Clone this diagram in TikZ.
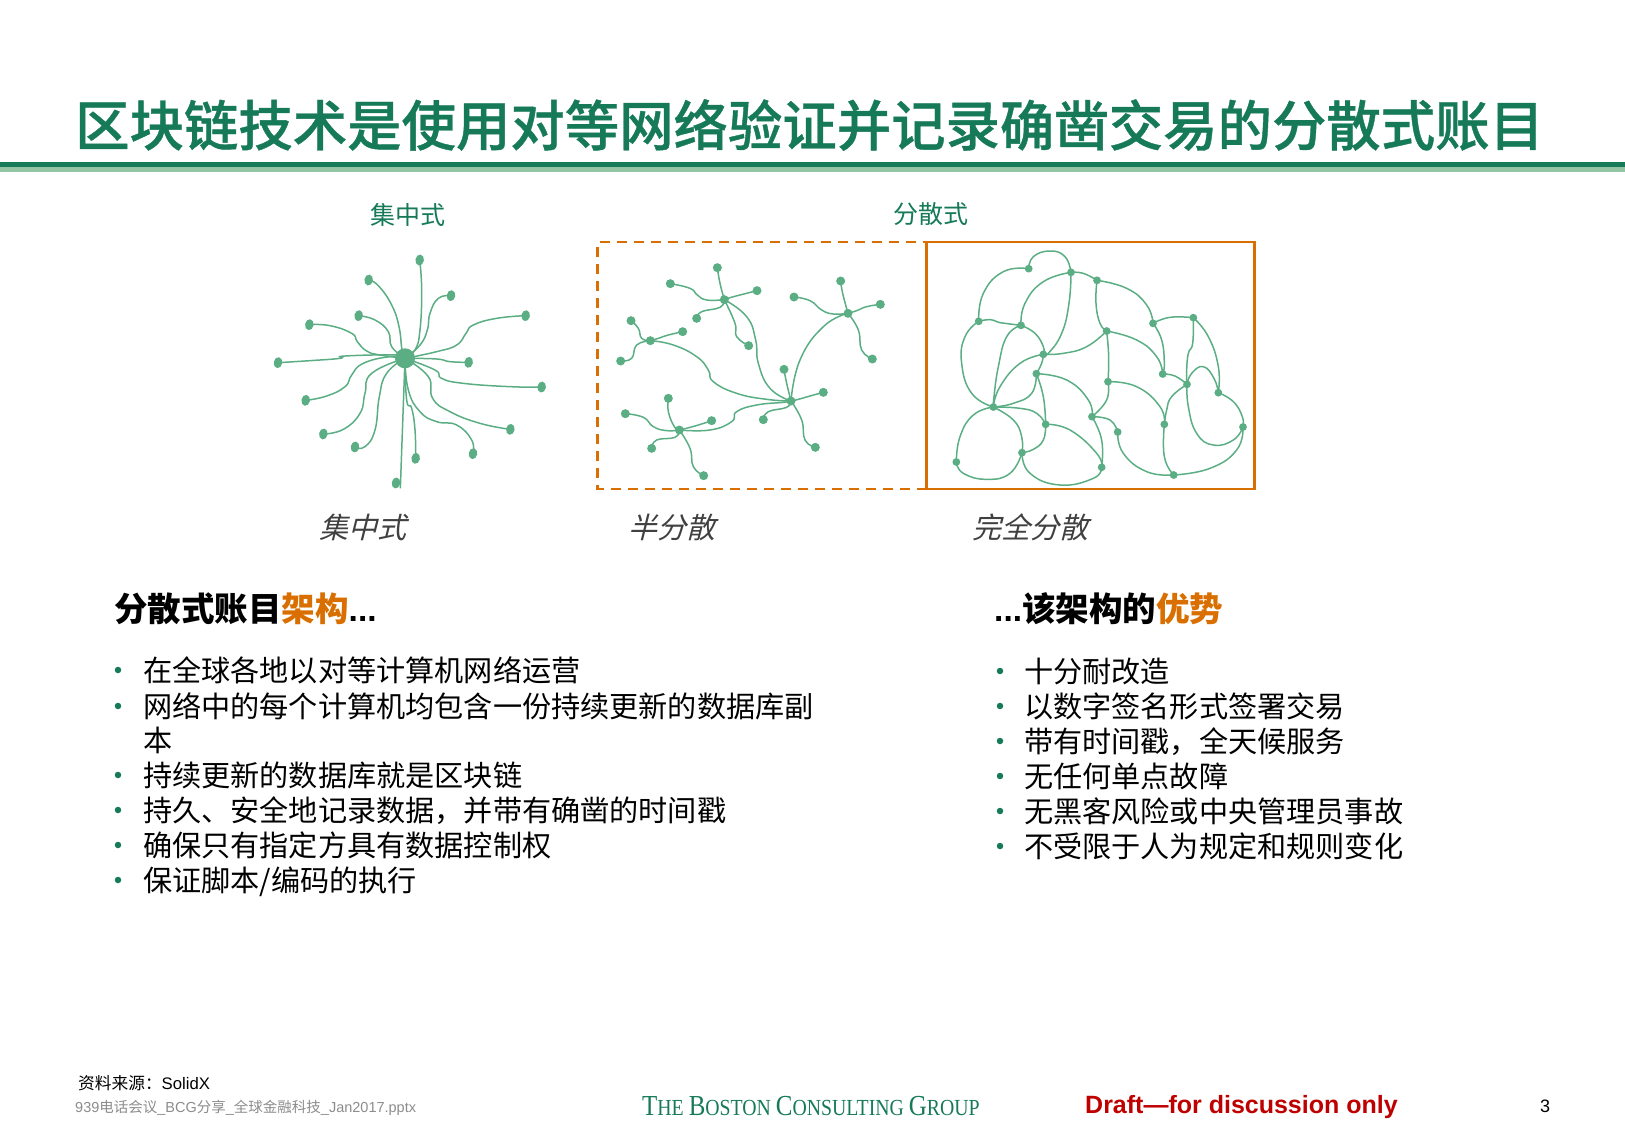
\documentclass[tikz,border=0pt]{standalone}
\usepackage{fontspec}
\setmainfont{Noto Sans CJK SC}
\newfontfamily\latinfont{Liberation Sans}
\newfontfamily\seriffont[FakeStretch=0.86]{Liberation Serif}
\newfontfamily\slantfont[FakeSlant=0.25]{Noto Sans CJK SC}
\newfontfamily\medfont[FakeBold=0.7]{Noto Sans CJK SC Medium}
\usepackage{tikz}
\usetikzlibrary{positioning,shapes.geometric}
\definecolor{bcggreen}{HTML}{167A58}
\definecolor{rulegreen}{HTML}{93C4A4}
\definecolor{linkgreen}{HTML}{5BAE84}
\definecolor{boxorange}{HTML}{D96F00}
\definecolor{textgrey}{HTML}{404040}
\newcommand{\fs}[1]{\fontsize{#1}{#1}\selectfont}
\begin{document}
\begin{tikzpicture}[
  x=1pt, y=-1pt,
  titletext/.style={anchor=west, inner sep=0pt, font=\fs{54.4}\medfont, text=bcggreen},
  toplabel/.style={inner sep=0pt, font=\fs{25}, text=bcggreen},
  netlabel/.style={inner sep=0pt, font=\fs{29}\slantfont, text=textgrey},
  headtext/.style={anchor=west, inner sep=0pt, font=\fs{33.5}\bfseries},
  itemtext/.style={anchor=west, inner sep=0pt, font=\fs{29.15}, text height=27pt, text depth=5pt},
  itemdot/.style={circle, fill=bcggreen, inner sep=0pt, minimum size=6.5pt},
  hub/.style={circle, fill=linkgreen, inner sep=0pt, minimum size=20pt},
  leaf/.style={ellipse, fill=linkgreen, inner sep=0pt, minimum width=8.5pt, minimum height=11pt},
  dot/.style={circle, fill=linkgreen, inner sep=0pt, minimum size=7.8pt},
  bigdot/.style={dot, minimum size=9pt},
  link/.style={draw=linkgreen, line width=1.5pt, smooth, tension=.8},
  footer/.style={anchor=west, inner sep=0pt},
]
  \useasboundingbox (0,0) rectangle (1625,1125);
  \node[titletext] (title) at (75,125) {区块链技术是使用对等网络验证并记录确凿交易的分散式账目};
  \coordinate (ruleL) at (0,164.5);
  \coordinate (ruleR) at (1625,164.5);
  \coordinate (ruleLb) at (0,169.5);
  \coordinate (ruleRb) at (1625,169.5);
  \draw[rulegreen, line width=4.5pt] (ruleLb) -- (ruleRb);
  \draw[bcggreen, line width=5.5pt] (ruleL) -- (ruleR);
  \node[toplabel] (topA) at (408,214.5) {集中式};
  \node[toplabel] (topB) at (931,214.5) {分散式};
  \node[netlabel] (labA) at (363,527) {集中式};
  \node[netlabel] (labB) at (671.5,527) {半分散};
  \node[netlabel] (labC) at (1030,527) {完全分散};
  % boxes
  \coordinate (boxA) at (597.7,242);
  \coordinate (boxB) at (926.5,489);
  \coordinate (boxC) at (1254.7,242);
  \draw[boxorange, line width=2.5pt, dash pattern=on 10pt off 7pt] (boxB) -- (boxB -| boxA) -- (boxA) -- (boxA -| boxB);
  \draw[boxorange, line width=2.5pt] (boxB) rectangle (boxC);

  % centralised network
  \begin{scope}[xshift=250pt, yshift=-190pt, x=.33333pt, y=-.33333pt]
    \node[hub] (c0) at (465,505) {};
    \foreach \nm/\px/\py in {c1/509/210, c2/356/270, c3/603/317, c4/827/377, c5/326/377,
        c6/178/404, c7/84/518, c8/656/517, c9/875/591, c10/167/631, c11/781/718,
        c12/220/732, c13/669/791, c14/315/771, c15/497/805, c16/438/879}
      \node[leaf, rotate=-10] (\nm) at (\px,\py) {};
    \coordinate (c16e) at (451,895);
    \draw[link] plot coordinates {(c0.center) (495,480) (510,420) (515,300) (c1.center)};
    \draw[link] plot coordinates {(c2.center) (385,287) (425,345) (447,410) (456,480) (c0.center)};
    \draw[link] plot coordinates {(c3.center) (565,325) (540,370) (532,420) (510,465) (c0.center)};
    \draw[link] plot coordinates {(c4.center) (740,385) (670,405) (648,430) (620,465) (560,485) (c0.center)};
    \draw[link] plot coordinates {(c5.center) (375,390) (415,425) (425,470) (c0.center)};
    \draw[link] plot coordinates {(c6.center) (240,407) (305,430) (322,455) (350,483) (390,495) (c0.center)};
    \draw[link] plot coordinates {(c7.center) (180,512) (270,505) (285,498) (440,495) (c0.center)};
    \draw[link] plot coordinates {(c8.center) (600,515) (560,507) (c0.center)};
    \draw[link] plot coordinates {(c9.center) (780,590) (640,580) (575,565) (555,540) (c0.center)};
    \draw[link] plot coordinates {(c10.center) (230,618) (285,590) (305,555) (340,520) (420,500) (c0.center)};
    \draw[link] plot coordinates {(c11.center) (690,700) (600,665) (548,625) (535,560) (c0.center)};
    \draw[link] plot coordinates {(c12.center) (280,718) (330,670) (345,610) (365,550) (c0.center)};
    \draw[link] plot coordinates {(c13.center) (665,750) (620,705) (560,695) (510,665) (475,600) (c0.center)};
    \draw[link] plot coordinates {(c14.center) (345,770) (375,720) (388,620) (410,550) (c0.center)};
    \draw[link] plot coordinates {(c15.center) (495,720) (485,655) (470,630) (c0.center)};
    \draw[link] (c0.center) -- (c16e);
  \end{scope}

  % semi network
  \begin{scope}[xshift=590pt, yshift=-190pt, x=.33333pt, y=-.33333pt]
    \foreach \nm/\px/\py in {s1/403/329, s2/181/452, s3/774/370, s4/268/720, s5/603/633,
        s1a/382/233, s1b/241/281, s1c/501/302, s1d/320/385, s1e/476/467,
        s2a/123/392, s2b/278/425, s2c/92/513,
        s3a/752/273, s3b/612/321, s3c/871/343, s3d/847/507,
        s4a/235/625, s4b/106/671, s4c/365/692, s4d/185/775, s4e/341/857,
        s5a/582/538, s5b/700/607, s5c/520/689, s5d/676/772}
      \node[bigdot] (\nm) at (\px,\py) {};
    \draw[link] plot coordinates {(s1.center) (390,280) (s1a.center)};
    \draw[link] plot coordinates {(s1b.center) (300,295) (322,315) (350,330) (s1.center)};
    \draw[link] plot coordinates {(s1.center) (420,323) (450,315) (s1c.center)};
    \draw[link] plot coordinates {(s1d.center) (335,365) (390,352) (s1.center)};
    \draw[link] plot coordinates {(s1.center) (435,400) (440,440) (s1e.center)};
    \draw[link] plot coordinates {(s1.center) (470,380) (497,450) (505,520) (540,595) (s5.center)};
    \draw[link] plot coordinates {(s2a.center) (145,415) (155,445) (s2.center)};
    \draw[link] plot coordinates {(s2.center) (205,445) (235,435) (s2b.center)};
    \draw[link] plot coordinates {(s2c.center) (125,505) (140,465) (s2.center)};
    \draw[link] plot coordinates {(s2.center) (250,465) (320,500) (355,540) (370,575) (440,610) (530,628) (s5.center)};
    \draw[link] plot coordinates {(s3.center) (758,310) (s3a.center)};
    \draw[link] plot coordinates {(s3b.center) (660,332) (695,360) (730,372) (s3.center)};
    \draw[link] plot coordinates {(s3.center) (800,362) (830,350) (s3c.center)};
    \draw[link] plot coordinates {(s3.center) (805,420) (815,480) (s3d.center)};
    \draw[link] plot coordinates {(s3.center) (700,410) (630,510) (s5.center)};
    \draw[link] plot coordinates {(s4a.center) (235,665) (253,710) (s4.center)};
    \draw[link] plot coordinates {(s4b.center) (160,682) (190,710) (230,722) (s4.center)};
    \draw[link] plot coordinates {(s4.center) (315,708) (s4c.center)};
    \draw[link] plot coordinates {(s4d.center) (200,750) (255,742) (s4.center)};
    \draw[link] plot coordinates {(s4.center) (300,775) (310,830) (s4e.center)};
    \draw[link] plot coordinates {(s4.center) (360,720) (425,695) (440,665) (500,645) (580,637) (s5.center)};
    \draw[link] plot coordinates {(s5.center) (590,580) (s5a.center)};
    \draw[link] plot coordinates {(s5.center) (625,628) (660,618) (s5b.center)};
    \draw[link] plot coordinates {(s5c.center) (535,665) (590,652) (s5.center)};
    \draw[link] plot coordinates {(s5.center) (635,690) (645,750) (s5d.center)};
  \end{scope}

  % full network
  \begin{scope}[xshift=920pt, yshift=-230pt, x=.33333pt, y=-.33333pt]
    \foreach \nm/\px/\py in {n1/326/116, n2/453/127, n3/531/151, n4/176/274, n5/303/286,
        n6/699/280, n7/820/263, n8/560/303, n9/370/373, n10/349/431, n11/728/432,
        n12/564/455, n13/801/463, n14/895/488, n15/220/531, n16/516/560, n17/377/583,
        n18/733/583, n19/593/606, n20/969/591, n21/306/668, n22/109/696, n23/545/712, n24/761/735}
      \node[dot] (\nm) at (\px,\py) {};
    \foreach \fr/\via/\tg in {
        n1/{(340,80) (390,63) (435,80)}/n2, n1/{(250,125) (190,190)}/n4,
        n2/{(370,155) (315,220)}/n5, n2/{(490,130)}/n3, n2/{(447,220) (425,310) (385,370)}/n9,
        n3/{(620,175) (680,225)}/n6, n3/{(528,220) (540,280)}/n8,
        n4/{(210,269) (240,278) (270,282)}/n5, n4/{(135,320) (125,400) (155,490)}/n15,
        n5/{(260,320) (235,410) (222,500)}/n15, n5/{(345,310) (370,350)}/n9,
        n6/{(750,262)}/n7, n6/{(725,330) (733,400)}/n11,
        n7/{(818,340) (805,370) (800,420)}/n13, n7/{(865,320) (895,410)}/n14,
        n8/{(500,350) (430,370)}/n9, n8/{(650,330) (710,380)}/n11, n8/{(566,380)}/n12,
        n9/{(300,400) (240,470)}/n15, n9/{(365,400)}/n10,
        n10/{(335,490) (280,520)}/n15, n10/{(370,500)}/n17, n10/{(440,450) (505,510)}/n16,
        n11/{(765,438)}/n13, n12/{(560,510)}/n16, n12/{(650,470) (720,530)}/n18,
        n13/{(755,500) (740,540)}/n18, n13/{(815,430) (850,410) (882,445)}/n14,
        n13/{(805,530) (830,610) (880,645) (940,630)}/n20, n14/{(940,515) (967,560)}/n20,
        n15/{(300,535) (350,550)}/n17, n15/{(280,570) (305,620)}/n21, n15/{(160,555) (120,620)}/n22,
        n17/{(370,630) (340,658)}/n21, n17/{(450,600) (530,670)}/n23, n16/{(545,630)}/n23,
        n16/{(570,570)}/n19, n19/{(610,670) (680,725)}/n24, n18/{(733,680)}/n24,
        n20/{(950,660) (870,715)}/n24, n21/{(270,730) (200,748) (130,730)}/n22,
        n21/{(330,730) (420,765) (520,745)}/n23}
      \draw[link] plot coordinates {(\fr.center) \via (\tg.center)};
  \end{scope}

  % left text
  \node[headtext] (headL) at (114,609) {分散式账目\textcolor{boxorange}{架构}{\latinfont ...}};
  \node[itemdot] (dL1) at (118,670) {};
  \node[itemdot] (dL2) at (118,706) {};
  \node[itemdot] (dL3) at (118,775) {};
  \node[itemdot] (dL4) at (118,810) {};
  \node[itemdot] (dL5) at (118,845) {};
  \node[itemdot] (dL6) at (118,880) {};
  \node[itemtext] (tL1) at (143,670) {在全球各地以对等计算机网络运营};
  \node[itemtext] (tL2) at (143,706) {网络中的每个计算机均包含一份持续更新的数据库副};
  \node[itemtext] (tL2b) at (143,740) {本};
  \node[itemtext] (tL3) at (143,775) {持续更新的数据库就是区块链};
  \node[itemtext] (tL4) at (143,810) {持久、安全地记录数据，并带有确凿的时间戳};
  \node[itemtext] (tL5) at (143,845) {确保只有指定方具有数据控制权};
  \node[itemtext] (tL6) at (143,880) {保证脚本/编码的执行};

  % right text
  \node[headtext] (headR) at (994,609) {{\latinfont ...}该架构的\textcolor{boxorange}{优势}};
  \node[itemdot] (dR1) at (1000,671) {};
  \node[itemdot] (dR2) at (1000,706) {};
  \node[itemdot] (dR3) at (1000,741) {};
  \node[itemdot] (dR4) at (1000,776) {};
  \node[itemdot] (dR5) at (1000,811) {};
  \node[itemdot] (dR6) at (1000,846) {};
  \node[itemtext] (tR1) at (1024,671) {十分耐改造};
  \node[itemtext] (tR2) at (1024,706) {以数字签名形式签署交易};
  \node[itemtext] (tR3) at (1024,741) {带有时间戳，全天候服务};
  \node[itemtext] (tR4) at (1024,776) {无任何单点故障};
  \node[itemtext] (tR5) at (1024,811) {无黑客风险或中央管理员事故};
  \node[itemtext] (tR6) at (1024,846) {不受限于人为规定和规则变化};

  % footer
  \node[footer, font=\fs{16.7}] (src) at (78,1083) {资料来源：{\latinfont SolidX}};
  \node[footer, font=\fs{14.5}, text=black!45] (path) at (75,1108) {{\latinfont 939}电话会议{\latinfont \_BCG}分享{\latinfont \_}全球金融科技{\latinfont \_Jan2017.pptx}};
  \node[footer, text=bcggreen, font=\seriffont] (bcg) at (642,1106) {\fs{29}T\fs{23}HE \fs{29}B\fs{23}OSTON \fs{29}C\fs{23}ONSULTING \fs{29}G\fs{23}ROUP};
  \node[footer, text=red!75!black, font=\fs{25}\latinfont\bfseries] (draft) at (1085,1107.5) {Draft—for discussion only};
  \node[inner sep=0pt, font=\fs{18}\latinfont] (page) at (1545,1106) {3};
\end{tikzpicture}
\end{document}
